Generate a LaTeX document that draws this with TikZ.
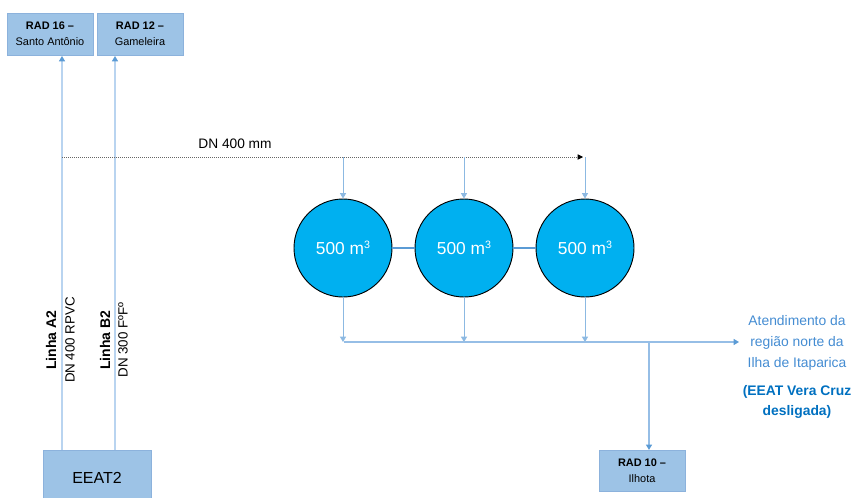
\documentclass[tikz,border=0pt]{standalone}
\usepackage{fontspec}
\setmainfont{Liberation Sans}
\usetikzlibrary{arrows.meta}
\definecolor{boxfill}{RGB}{157,195,230}
\definecolor{boxedge}{RGB}{140,178,220}
\definecolor{tankfill}{RGB}{0,176,240}
\definecolor{pipe}{RGB}{91,155,213}
\definecolor{pipelight}{RGB}{185,212,240}
\definecolor{pipemid}{RGB}{150,190,230}
\definecolor{notetxt}{RGB}{68,140,210}
\definecolor{notebold}{RGB}{0,112,192}
\tikzset{
  station/.style={draw=boxedge, fill=boxfill, line width=0.6pt, align=center,
    inner sep=0pt, text=black},
  tank/.style={circle, draw=black, fill=tankfill, line width=0.7pt,
    minimum size=73.5pt, inner sep=0pt, text=white, font=\fontsize{13}{15}\selectfont},
  tip/.style={-{Triangle[width=4.5pt,length=4pt]}},
  feed/.style={pipe!70, line width=0.6pt, tip},
  lineup/.style={pipelight, line width=0.8pt, -{Triangle[width=4.5pt,length=4pt,color=pipe,fill=pipe]}},
  busline/.style={pipemid, line width=0.9pt, -{Triangle[width=4.5pt,length=4pt,color=pipe,fill=pipe]}},
  link/.style={pipe, line width=1.4pt},
  vlabel/.style={rotate=90, font=\fontsize{10}{12}\selectfont, inner sep=0pt},
}
\newcommand{\cubic}{m\raisebox{0.35em}{\fontsize{8}{8}\selectfont 3}}
\begin{document}
\begin{tikzpicture}[x=0.75pt, y=-0.75pt]
\useasboundingbox (0,0) rectangle (852,497);
\clip (0,0) rectangle (852,497);

% stations
\node[station, minimum width=64.5pt, minimum height=31.5pt] (rad16) at (50,34)
  {\fontsize{8.2}{10.5}\selectfont\textbf{RAD 16 –}\\\fontsize{8.2}{10.5}\selectfont Santo Antônio};
\node[station, minimum width=64.5pt, minimum height=31.5pt] (rad12) at (140,34)
  {\fontsize{8.2}{10.5}\selectfont\textbf{RAD 12 –}\\\fontsize{8.2}{10.5}\selectfont Gameleira};
\node[station, minimum width=64.5pt, minimum height=31pt] (rad10) at (642,471)
  {\fontsize{8.2}{10.5}\selectfont\textbf{RAD 10 –}\\\fontsize{8.2}{10.5}\selectfont Ilhota};
\node[station, minimum width=81pt, minimum height=42pt, font=\fontsize{12}{14}\selectfont] (eeat) at (97,478) {EEAT2};

% reservoirs
\node[tank] (c1) at (343,248) {500 \cubic};
\node[tank] (c2) at (464,248) {500 \cubic};
\node[tank] (c3) at (585,248) {500 \cubic};
\draw[link] (c1.east) -- (c2.west);
\draw[link] (c2.east) -- (c3.west);

% rising mains from EEAT2
\coordinate (a2top) at (62,56);
\coordinate (b2top) at (115,56);
\draw[lineup] (eeat.north -| a2top) -- (a2top);
\draw[lineup] (eeat.north -| b2top) -- (b2top);
\node[vlabel, font=\fontsize{10.5}{12}\selectfont\bfseries] (la2) at (51,340) {Linha A2};
\node[vlabel] (da2) at (70,340) {DN 400 RPVC};
\node[vlabel, font=\fontsize{10.5}{12}\selectfont\bfseries] (lb2) at (105,340) {Linha B2};
\node[vlabel] (db2) at (123,340) {DN 300 FºFº};

% DN 400 header main
\coordinate (dnstart) at (62,157);
\coordinate (dnend) at (583,157);
\draw[gray!80!black, line width=0.5pt, densely dotted, -{Triangle[width=4pt,length=4pt,color=black,fill=black,sep=0pt]}]
  (dnstart) -- (dnend);
\node[font=\fontsize{10.3}{12}\selectfont] (dnlbl) at (235,144) {DN 400 mm};
\draw[feed] (c1.north |- dnstart) -- (c1.north);
\draw[feed] (c2.north |- dnstart) -- (c2.north);
\draw[feed] (c3.north |- dnstart) -- (c3.north);

% outlet collector
\coordinate (busstart) at (344,342);
\coordinate (busend) at (739,342);
\coordinate (branch) at (649,342);
\draw[feed] (c1.south) -- (c1.south |- busstart);
\draw[feed] (c2.south) -- (c2.south |- busstart);
\draw[feed] (c3.south) -- (c3.south |- busstart);
\draw[busline] (busstart) -- (busend);
\draw[busline] (branch) -- (branch |- rad10.north);

% supply notes
\node[text=notetxt, align=center, font=\fontsize{10.4}{15.8}\selectfont] (atend) at (797,343)
  {Atendimento da\\região norte da\\Ilha de Itaparica};
\node[text=notebold, align=center, font=\fontsize{10.4}{15}\selectfont\bfseries] (vera) at (797,402)
  {(EEAT Vera Cruz\\desligada)};
\end{tikzpicture}
\end{document}
